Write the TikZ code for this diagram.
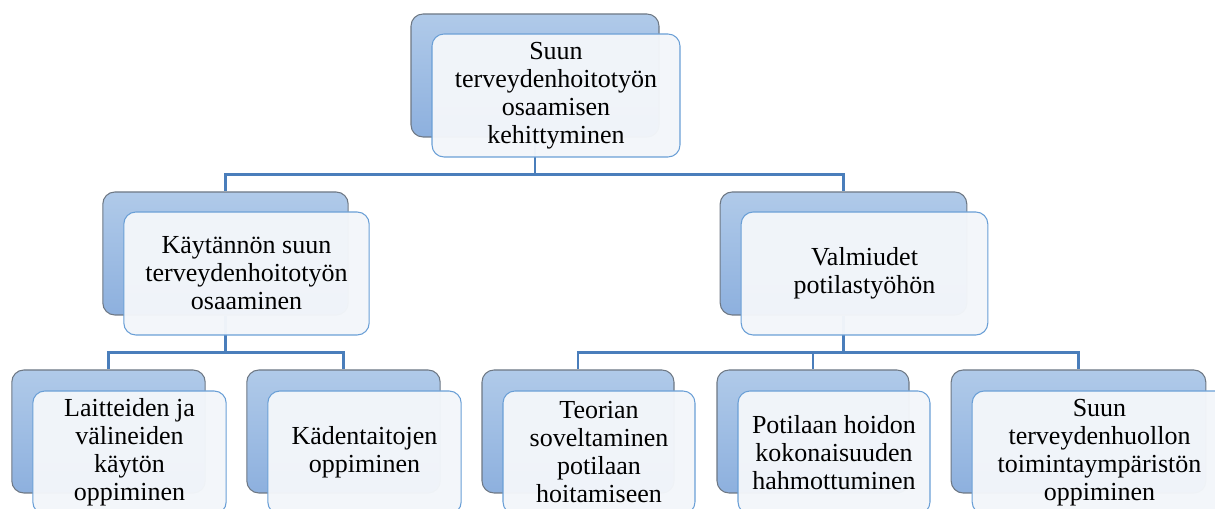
\documentclass[tikz,border=0pt]{standalone}
\usepackage{fontspec}
\setmainfont{Liberation Serif}
\newfontfamily\boxfont{Liberation Serif}
\definecolor{backtop}{HTML}{B0CAE9}
\definecolor{backbot}{HTML}{8DB0DE}
\definecolor{backline}{HTML}{6E7884}
\definecolor{frontfill}{HTML}{F3F6FA}
\definecolor{frontline}{HTML}{6A9FD6}
\definecolor{connc}{HTML}{4A7EBB}
\tikzset{
  backbox/.style={draw=backline, line width=0.8pt, rounded corners=9pt, top color=backtop, bottom color=backbot, minimum height=92.25pt, inner sep=0pt},
  frontbox/.style={draw=frontline, line width=0.8pt, rounded corners=9pt, fill=frontfill, fill opacity=0.97, text opacity=1, minimum height=92.25pt, inner sep=0pt, align=center, font=\boxfont\fontsize{19.5}{21}\selectfont},
  conn/.style={draw=connc, line width=2.2pt},
}
\begin{document}
\begin{tikzpicture}[x=0.75pt,y=-0.75pt]
\useasboundingbox (0,0) rectangle (1215,509);
\clip (0,0) rectangle (1215,509);
% back boxes
\node[backbox, minimum width=186pt] (t0) at (535,75.5) {};
\node[backbox, minimum width=184pt] (l0) at (225.5,253.5) {};
\node[backbox, minimum width=185pt] (r0) at (843.5,253.5) {};
\node[backbox, minimum width=145pt] (a0) at (108.5,431.5) {};
\node[backbox, minimum width=145pt] (b0) at (343.5,431.5) {};
\node[backbox, minimum width=144pt] (c0) at (578,431.5) {};
\node[backbox, minimum width=144pt] (d0) at (813,431.5) {};
\node[backbox, minimum width=191pt] (e0) at (1078.5,431.5) {};
% connectors
\draw[conn] (t0.south) -- ++(0,37) coordinate (th) -| (l0.north);
\draw[conn] (th) -| (r0.north);
\draw[conn] (l0.south) -- ++(0,37) coordinate (lh) -| (a0.north);
\draw[conn] (lh) -| (b0.north);
\draw[conn] (r0.south) -- ++(0,37) coordinate (rh) -| (c0.north);
\draw[conn] (rh) -| (d0.north);
\draw[conn] (rh) -| (e0.north);
% front boxes
\node[frontbox, minimum width=186pt] (t1) at (556,95.5) {Suun\\terveydenhoitotyön\\osaamisen\\kehittyminen};
\node[frontbox, minimum width=184pt] (l1) at (246.5,273.5) {Käytännön suun\\terveydenhoitotyön\\osaaminen};
\node[frontbox, minimum width=185pt] (r1) at (864.5,273.5) {Valmiudet\\potilastyöhön};
\node[frontbox, minimum width=145pt] (a1) at (129.5,452.5) {Laitteiden ja\\välineiden\\käytön\\oppiminen};
\node[frontbox, minimum width=145pt] (b1) at (364.5,452.5) {Kädentaitojen\\oppiminen};
\node[frontbox, minimum width=144pt] (c1) at (599,452.5) {Teorian\\soveltaminen\\potilaan\\hoitamiseen};
\node[frontbox, minimum width=144pt] (d1) at (834,452.5) {Potilaan hoidon\\kokonaisuuden\\hahmottuminen};
\node[frontbox, minimum width=191pt] (e1) at (1099.5,452.5) {Suun\\terveydenhuollon\\toimintaympäristön\\oppiminen};
\end{tikzpicture}
\end{document}
